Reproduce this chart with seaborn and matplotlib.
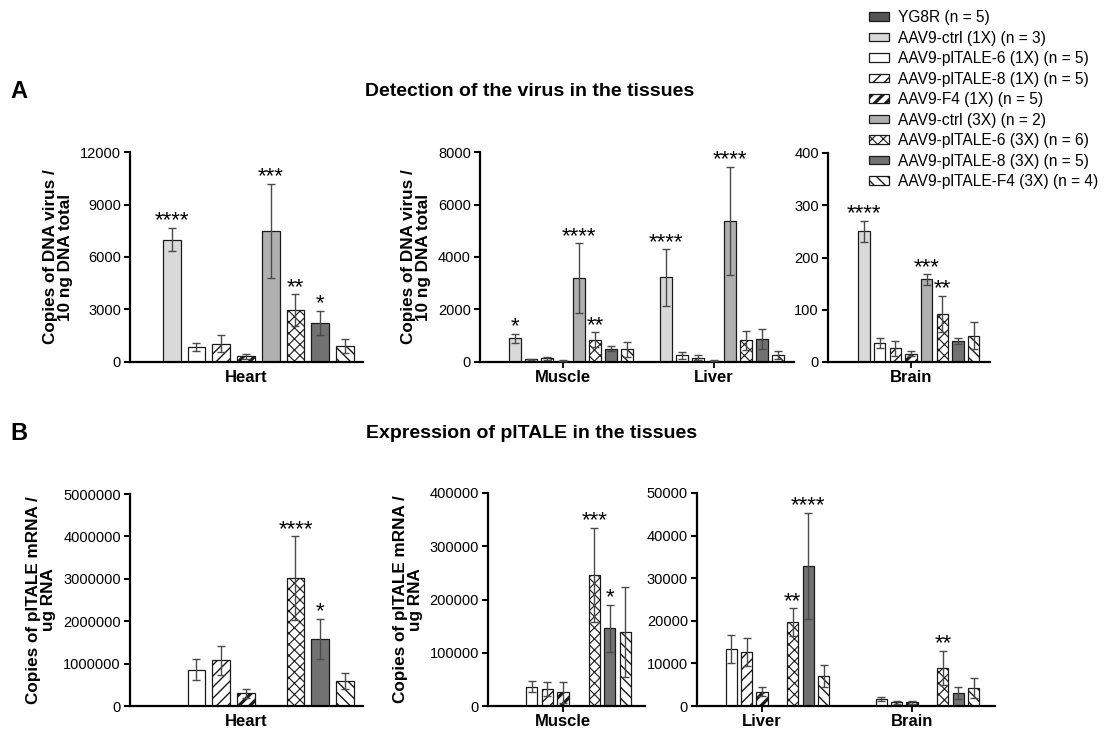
import numpy as np
import pandas as pd
import matplotlib
matplotlib.use("Agg")
import matplotlib.pyplot as plt
import seaborn as sns
from matplotlib.patches import Patch
from matplotlib.container import BarContainer

# ---------------- data ----------------
groups = ["YG8R (n = 5)", "AAV9-ctrl (1X) (n = 3)", "AAV9-plTALE-6 (1X) (n = 5)",
          "AAV9-plTALE-8 (1X) (n = 5)", "AAV9-F4 (1X) (n = 5)", "AAV9-ctrl (3X) (n = 2)",
          "AAV9-plTALE-6 (3X) (n = 6)", "AAV9-plTALE-8 (3X) (n = 5)", "AAV9-plTALE-F4 (3X) (n = 4)"]

# Panel A: copies of DNA virus / 10 ng DNA total (mean, SEM) in group order
a_heart_mean = [0, 7000, 860, 1050, 330, 7480, 2980, 2250, 930]
a_heart_sem = [0, 680, 250, 500, 150, 2700, 900, 680, 400]
a_muscle_mean = [10, 900, 100, 140, 50, 3200, 850, 500, 490]
a_muscle_sem = [0, 170, 30, 60, 30, 1330, 280, 100, 290]
a_liver_mean = [0, 3220, 260, 170, 40, 5380, 820, 870, 270]
a_liver_sem = [0, 1070, 130, 80, 20, 2050, 360, 390, 150]
a_brain_mean = [0, 250, 36, 26, 16, 158, 92, 40, 50]
a_brain_sem = [0, 20, 10, 14, 5, 10, 35, 6, 26]

# Panel B: copies of plTALE mRNA / ug RNA (mean, SEM)
b_heart_mean = [0, 0, 860000, 1080000, 300000, 0, 3010000, 1590000, 590000]
b_heart_sem = [0, 0, 250000, 340000, 100000, 0, 990000, 470000, 200000]
b_muscle_mean = [0, 0, 36000, 32000, 26000, 0, 246000, 146000, 139000]
b_muscle_sem = [0, 0, 10500, 12500, 19500, 0, 89000, 44000, 85000]
b_liver_mean = [0, 0, 13300, 12700, 3400, 0, 19700, 32900, 7000]
b_liver_sem = [0, 0, 3300, 3300, 1000, 0, 3200, 12500, 2600]
b_brain_mean = [0, 0, 1600, 900, 900, 0, 9000, 3100, 4200]
b_brain_sem = [0, 0, 400, 350, 350, 0, 4000, 1400, 2400]

# significance stars: group index -> label
a_heart_stars = {1: "****", 5: "***", 6: "**", 7: "*"}
a_muscle_stars = {1: "*", 5: "****", 6: "**"}
a_liver_stars = {1: "****", 5: "****"}
a_brain_stars = {1: "****", 5: "***", 6: "**"}
b_heart_stars = {6: "****", 7: "*"}
b_muscle_stars = {6: "***", 7: "*"}
b_liver_stars = {6: "**", 7: "****"}
b_brain_stars = {6: "**"}

a_heart_ticks = [0, 3000, 6000, 9000, 12000]
a_ml_ticks = [0, 2000, 4000, 6000, 8000]
a_brain_ticks = [0, 100, 200, 300, 400]
b_heart_ticks = [0, 1000000, 2000000, 3000000, 4000000, 5000000]
b_muscle_ticks = [0, 100000, 200000, 300000, 400000]
b_lb_ticks = [0, 10000, 20000, 30000, 40000, 50000]

# ---------------- style ----------------
faces = ["#555555", "#d9d9d9", "white", "white", "white", "#b0b0b0", "white", "#727272", "white"]
hatches = [None, None, None, "///", "///", None, "xxx", None, "\\\\\\"]
hatch_lw = [None, None, None, 1.0, 2.3, None, 0.8, None, 1.0]
EDGE = "#1a1a1a"

sns.set_style("ticks")
plt.rcParams["font.family"] = ["Liberation Sans", "DejaVu Sans"]
plt.rcParams["hatch.linewidth"] = 1.0
for k in ["text.color", "axes.labelcolor", "xtick.color", "ytick.color", "axes.edgecolor"]:
    plt.rcParams[k] = "black"

W, H = 1105, 733
fig = plt.figure(figsize=(W / 100, H / 100), dpi=100)


def with_hatch_lw(p, lw):
    p._hatch_linewidth = lw
    orig = p.draw

    def draw(renderer):
        with plt.rc_context({"hatch.linewidth": lw}):
            orig(renderer)
    p.draw = draw


def style_patch(p, gi):
    p.set_facecolor(faces[gi])
    p.set_edgecolor(EDGE)
    p.set_linewidth(0.9)
    if hatches[gi]:
        p.set_hatch(hatches[gi])
        with_hatch_lw(p, hatch_lw[gi])


def draw(rect, tissues, means, sems, stars, yticks, ylabel, xlim, width, xtick=True):
    x0, y0, x1, y1 = rect
    ax = fig.add_axes([x0 / W, 1 - y1 / H, (x1 - x0) / W, (y1 - y0) / H])
    rows = []
    for t, m in zip(tissues, means):
        for g, v in zip(groups, m):
            rows.append((t, g, v))
    df = pd.DataFrame(rows, columns=["tissue", "group", "value"])
    sns.barplot(data=df, x="tissue", y="value", hue="group", order=tissues,
                hue_order=groups, palette=dict(zip(groups, faces)), saturation=1,
                width=width, gap=0.28, errorbar=None, legend=False, ax=ax)
    bar_conts = [c for c in ax.containers if isinstance(c, BarContainer)]
    for gi, cont in enumerate(bar_conts):
        for ti, p in enumerate(cont.patches):
            style_patch(p, gi)
            m = means[ti][gi]
            s = sems[ti][gi]
            cx = p.get_x() + p.get_width() / 2
            if s > 0:
                ax.errorbar(cx, m, yerr=s, fmt="none", ecolor="#4a4a4a",
                            elinewidth=1.0, capsize=2.6, capthick=1.0, zorder=3)
            st = stars[ti].get(gi)
            if st:
                ax.annotate(st, (cx, m + s), xytext=(0, 1.0), textcoords="offset points",
                            ha="center", va="baseline", fontsize=16, color="black")
    ax.set_xlim(*xlim)
    ax.set_ylim(0, yticks[-1])
    ax.set_yticks(yticks)
    ax.set_yticklabels([str(t) for t in yticks], fontsize=10.5, color="black")
    ax.set_xticks(range(len(tissues)))
    ax.set_xticklabels(tissues, fontsize=12, fontweight="bold", color="black")
    ax.set_xlabel("")
    if ylabel:
        ax.set_ylabel(ylabel, fontsize=12.3, fontweight="bold", linespacing=1.0,
                      labelpad=5, color="black")
    else:
        ax.set_ylabel("")
    for sp in ["top", "right"]:
        ax.spines[sp].set_visible(False)
    for sp in ["left", "bottom"]:
        ax.spines[sp].set_linewidth(1.6)
        ax.spines[sp].set_color("black")
    ax.tick_params(axis="y", length=4.5, width=1.5, pad=2, colors="black")
    ax.tick_params(axis="x", length=4, width=1.3, pad=2, colors="black")
    if not xtick:
        ax.tick_params(axis="x", color=(0, 0, 0, 0))
    return ax


ylab_a = "Copies of DNA virus /\n10 ng DNA total"
ylab_b = "Copies of plTALE mRNA /\nug RNA"

draw((130, 152, 363, 362), ["Heart"], [a_heart_mean], [a_heart_sem], [a_heart_stars],
     a_heart_ticks, ylab_a, (-0.4843, 0.4885), 0.93, xtick=False)
draw((480, 152, 794, 362), ["Muscle", "Liver"], [a_muscle_mean, a_liver_mean],
     [a_muscle_sem, a_liver_sem], [a_muscle_stars, a_liver_stars],
     a_ml_ticks, ylab_a, (-0.5497, 1.5298), 0.954)
draw((828, 153, 990, 362), ["Brain"], [a_brain_mean], [a_brain_sem], [a_brain_stars],
     a_brain_ticks, None, (-0.553, 0.527), 0.942)

draw((130, 494, 363, 706), ["Heart"], [b_heart_mean], [b_heart_sem], [b_heart_stars],
     b_heart_ticks, ylab_b, (-0.4843, 0.4885), 0.93, xtick=False)
draw((488, 493, 645, 706), ["Muscle"], [b_muscle_mean], [b_muscle_sem], [b_muscle_stars],
     b_muscle_ticks, ylab_b, (-0.5, 0.547), 0.936)
draw((697, 493, 995, 706), ["Liver", "Brain"], [b_liver_mean, b_brain_mean],
     [b_liver_sem, b_brain_sem], [b_liver_stars, b_brain_stars],
     b_lb_ticks, None, (-0.433, 1.553), 0.924)

# titles and panel letters
fig.text(10 / W, 1 - 92 / H, "A", fontsize=17, fontweight="bold", va="center", ha="left")
fig.text(530 / W, 1 - 92 / H, "Detection of the virus in the tissues", fontsize=14,
         fontweight="bold", va="center", ha="center")
fig.text(10 / W, 1 - 433 / H, "B", fontsize=17, fontweight="bold", va="center", ha="left")
fig.text(532 / W, 1 - 433 / H, "Expression of plTALE in the tissues", fontsize=14,
         fontweight="bold", va="center", ha="center")

# legend
handles = []
for gi in range(len(groups)):
    p = Patch(facecolor=faces[gi], edgecolor=EDGE, linewidth=0.9, hatch=hatches[gi])
    handles.append(p)
leg = fig.legend(handles, groups, loc="upper left", bbox_to_anchor=(869 / W, 1 - 10 / H),
                 frameon=False, fontsize=11.2, handlelength=1.3, handleheight=0.45,
                 handletextpad=0.55, labelspacing=0.355, borderaxespad=0, borderpad=0)
for gi, h in enumerate(leg.legend_handles):
    if hatches[gi]:
        with_hatch_lw(h, hatch_lw[gi])

fig.savefig("out.png", dpi=100)
